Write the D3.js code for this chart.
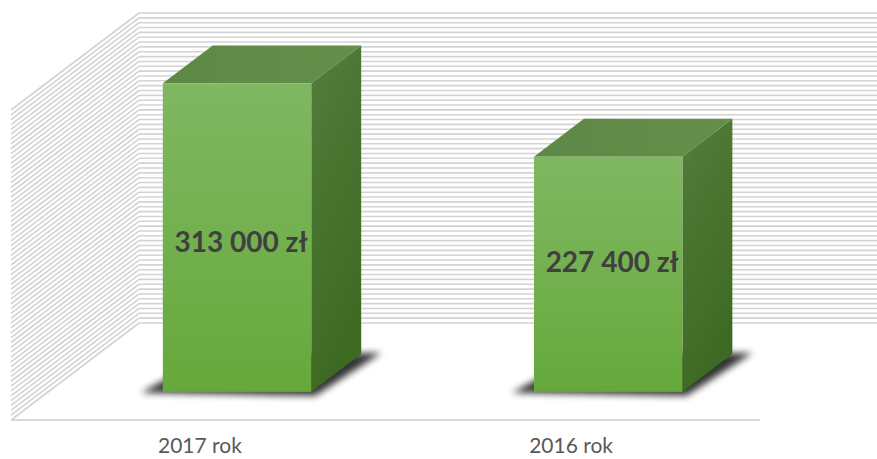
<!DOCTYPE html>
<html>
<head>
<meta charset="utf-8">
<script src="https://cdn.jsdelivr.net/npm/d3@7"></script>
<style>
  html, body { margin: 0; padding: 0; background: #ffffff; }
  svg { display: block; }
</style>
</head>
<body>
<svg id="chart" width="877" height="459"></svg>
<script>
// ---- data ----
const categories = ["2017 rok", "2016 rok"];
const values = [313000, 227400];
const valueLabels = ["313 000 zł", "227 400 zł"];

// ---- layout ----
const W = 877, H = 459;
const floorLeft = 11, floorRight = 760, floorFrontY = 420, wallTopFrontY = 110;
const depthX = 128, depthY = 97;          // full depth of the 3D box
const barD0 = 0.29, barD1 = 0.68;         // bar depth slot (fraction of depth)
const axisMin = -46900, axisMax = 314600; // fitted value axis of the 3D view
const gridCount = 64;

const svg = d3.select("#chart");

const x = d3.scaleBand().domain(categories).range([floorLeft, floorRight])
  .paddingInner(0.6).paddingOuter(0.309);
const y = d3.scaleLinear().domain([axisMin, axisMax]).range([floorFrontY, wallTopFrontY]);

// ---- defs ----
const defs = svg.append("defs");
const gFront = defs.append("linearGradient").attr("id", "gFront").attr("x1", 0).attr("y1", 0).attr("x2", 0).attr("y2", 1);
gFront.append("stop").attr("offset", 0).attr("stop-color", "#80b762");
gFront.append("stop").attr("offset", 1).attr("stop-color", "#66a93b");
const gTop = defs.append("linearGradient").attr("id", "gTop").attr("x1", 0).attr("y1", 0).attr("x2", 1).attr("y2", 0);
gTop.append("stop").attr("offset", 0).attr("stop-color", "#5e8845");
gTop.append("stop").attr("offset", 1).attr("stop-color", "#648f4b");
const gSide = defs.append("linearGradient").attr("id", "gSide").attr("x1", 0).attr("y1", 0).attr("x2", 0.3).attr("y2", 1);
gSide.append("stop").attr("offset", 0).attr("stop-color", "#537d3b");
gSide.append("stop").attr("offset", 1).attr("stop-color", "#3d6a23");
const blur = defs.append("filter").attr("id", "shadowBlur")
  .attr("x", "-30%").attr("y", "-30%").attr("width", "160%").attr("height", "160%");
blur.append("feGaussianBlur").attr("stdDeviation", 3.5);

// ---- walls with gridlines ----
const gridVals = d3.range(0, gridCount + 1).map(i => axisMin + i * (axisMax - axisMin) / gridCount);
const grid = svg.append("g").attr("stroke", "#d3d3d3").attr("stroke-width", 1.6).attr("fill", "none");
// back wall
grid.selectAll("line.back").data(gridVals).join("line").attr("class", "back")
  .attr("x1", floorLeft + depthX).attr("x2", floorRight + depthX)
  .attr("y1", d => y(d) - depthY).attr("y2", d => y(d) - depthY);
// side wall
grid.selectAll("line.side").data(gridVals).join("line").attr("class", "side")
  .attr("x1", floorLeft).attr("y1", d => y(d))
  .attr("x2", floorLeft + depthX).attr("y2", d => y(d) - depthY);

// floor front edge
svg.append("line")
  .attr("x1", floorLeft).attr("x2", floorRight)
  .attr("y1", y(axisMin)).attr("y2", y(axisMin))
  .attr("stroke", "#d9d9d9").attr("stroke-width", 2);

// ---- bars ----
const bw = x.bandwidth();
const bdx = (barD1 - barD0) * depthX, bdy = (barD1 - barD0) * depthY;
const bars = categories.map((c, i) => {
  const xl = x(c) + barD0 * depthX;
  const xr = xl + bw;
  const yT = y(values[i]) - barD0 * depthY;
  const yB = y(axisMin) - barD0 * depthY;
  return { c, v: values[i], label: valueLabels[i], xl, xr, yT, yB };
});

const gBars = svg.append("g");
const pts = a => a.map(p => p.join(",")).join(" ");

// shadows
gBars.selectAll("polygon.shadow").data(bars).join("polygon").attr("class", "shadow")
  .attr("points", b => pts([
    [b.xl - 22, b.yB + 1], [b.xr + 4, b.yB + 4],
    [b.xr + bdx + 20, b.yB - bdy - 1], [b.xl + bdx, b.yB - bdy]
  ]))
  .attr("fill", "#000").attr("opacity", 0.8).attr("filter", "url(#shadowBlur)");

gBars.selectAll("polygon.side").data(bars).join("polygon").attr("class", "side")
  .attr("points", b => pts([[b.xr, b.yT], [b.xr + bdx, b.yT - bdy], [b.xr + bdx, b.yB - bdy], [b.xr, b.yB]]))
  .attr("fill", "url(#gSide)");
gBars.selectAll("polygon.top").data(bars).join("polygon").attr("class", "top")
  .attr("points", b => pts([[b.xl, b.yT], [b.xr, b.yT], [b.xr + bdx, b.yT - bdy], [b.xl + bdx, b.yT - bdy]]))
  .attr("fill", "url(#gTop)");
gBars.selectAll("rect.front").data(bars).join("rect").attr("class", "front")
  .attr("x", b => b.xl).attr("y", b => b.yT)
  .attr("width", bw).attr("height", b => b.yB - b.yT)
  .attr("fill", "url(#gFront)");

// value labels
const labelAnchor = 300.8, labelK = 0.2725;
svg.append("g").selectAll("text").data(bars).join("text")
  .attr("x", b => b.xl + bw / 2 + 4)
  .attr("y", b => labelAnchor + (b.yT - labelAnchor) * labelK)
  .attr("dy", "0.36em")
  .attr("text-anchor", "middle")
  .attr("font-family", "Lato, 'Open Sans', sans-serif")
  .attr("font-weight", "bold")
  .attr("font-size", 28)
  .attr("fill", "#404040")
  .text(b => b.label);

// category labels
svg.append("g").selectAll("text").data(categories).join("text")
  .attr("x", c => x(c) + bw / 2)
  .attr("y", 453)
  .attr("text-anchor", "middle")
  .attr("font-family", "Lato, 'Open Sans', sans-serif")
  .attr("font-size", 21)
  .attr("fill", "#595959")
  .text(c => c);
</script>
</body>
</html>
